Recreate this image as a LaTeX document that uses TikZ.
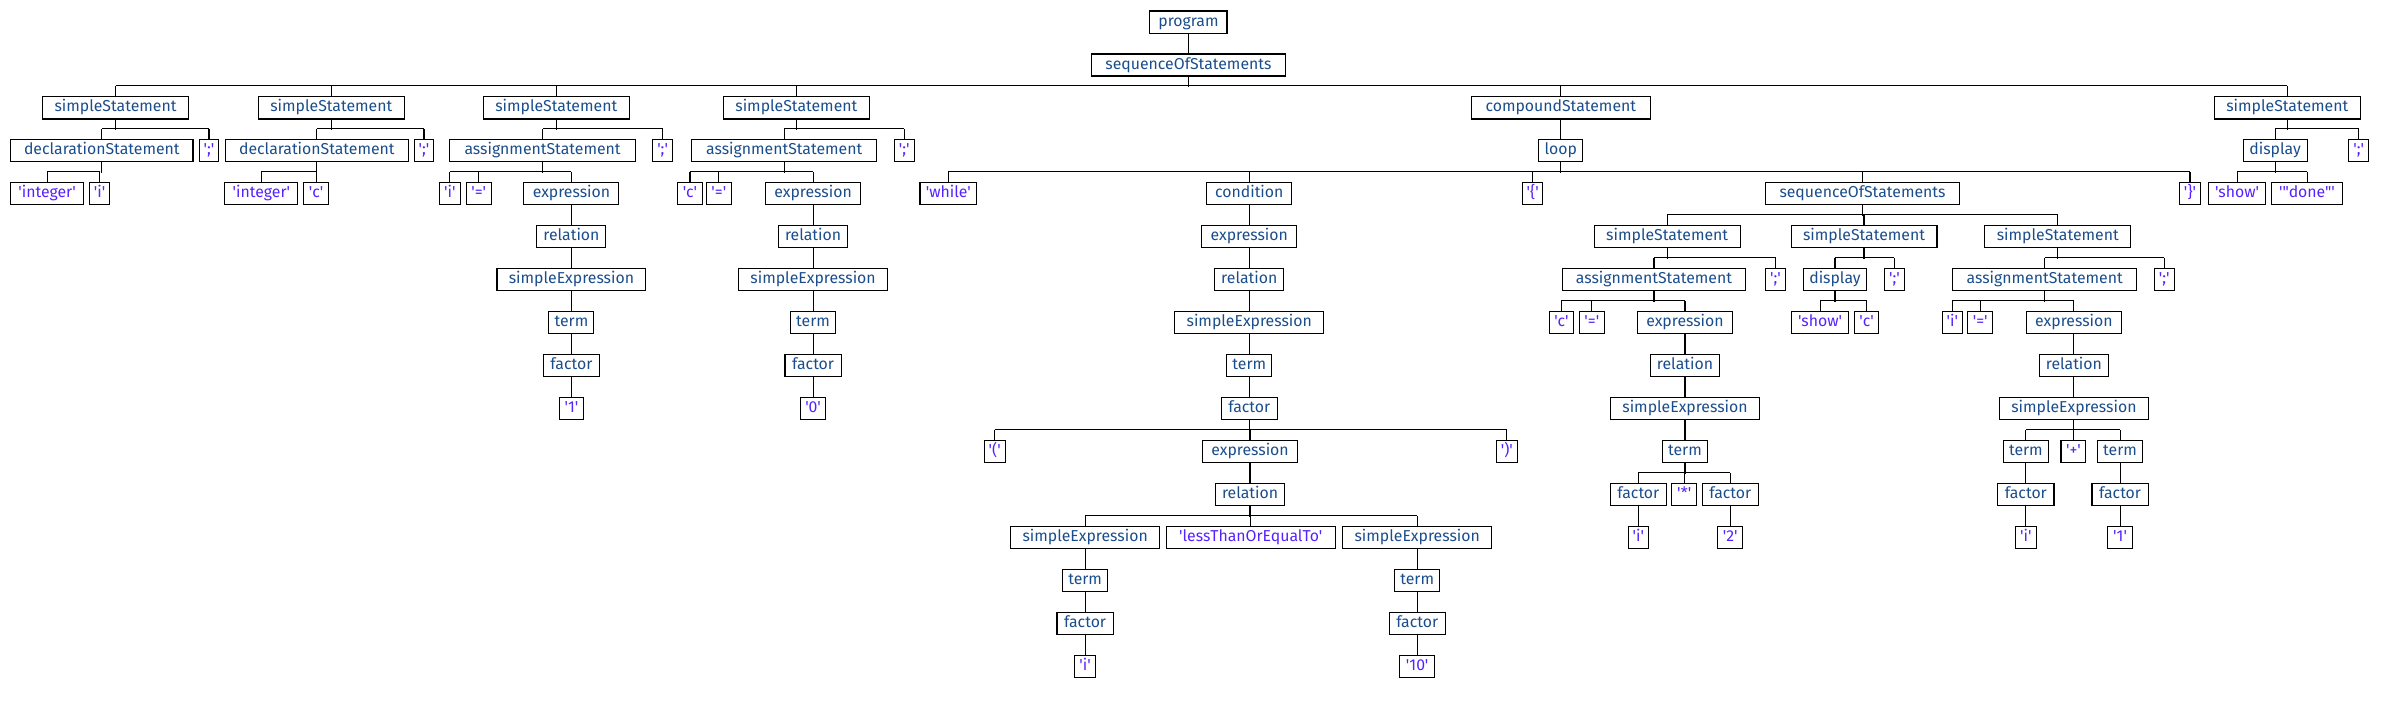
\documentclass[tikz,border=0pt]{standalone}
\usepackage{fontspec}
\newfontfamily\fira{Fira Sans}[Ligatures=TeXOff]
\definecolor{ntc}{HTML}{1A4D8C}
\definecolor{tmc}{HTML}{5522FF}
\tikzset{
  box/.style={draw=black, line width=0.7pt, inner xsep=0pt, inner ysep=0pt,
    minimum height=14.5pt, text height=7.5pt, text depth=2.2pt,
    font=\fira\fontsize{10.4}{12}\selectfont},
  nt/.style={box, text=ntc, minimum width=#1pt},
  tm/.style={box, text=tmc, minimum width=#1pt},
  ln/.style={draw=black, line width=0.7pt}
}
% #1 parent, #2 all children, #3 first child, #4 last child
\newcommand\kids[4]{%
  \draw[ln] (#1.south) -- ++(0,-6.885pt);
  \foreach \c in {#2}{\draw[ln] (\c.north) -- ++(0,6.885pt);}
  \draw[ln] ([yshift=6.885pt]#3.north) -- ([yshift=6.885pt]#4.north);}
\newcommand\one[2]{\draw[ln] (#1.south) -- (#2.north);}
\begin{document}
\begin{tikzpicture}[x=1pt, y=-28.27pt]
\useasboundingbox (0pt,0pt) rectangle (1568pt,-476pt);
\begin{scope}[yshift=-14.5pt]
% level 0-1
\node[nt=50.7] (program) at (782,0) {program};
\node[nt=128] (seq1) at (782,1) {sequenceOfStatements};
% level 2
\node[nt=96] (ss1) at (76,2) {simpleStatement};
\node[nt=96] (ss2) at (218,2) {simpleStatement};
\node[nt=96] (ss3) at (366,2) {simpleStatement};
\node[nt=96] (ss4) at (524,2) {simpleStatement};
\node[nt=118] (comp) at (1027,2) {compoundStatement};
\node[nt=96] (ss6) at (1505,2) {simpleStatement};
% level 3
\node[nt=120] (decl1) at (67,3) {declarationStatement};
\node[tm=13] (semi1) at (137.5,3) {';'};
\node[nt=120] (decl2) at (208.5,3) {declarationStatement};
\node[tm=13] (semi2) at (279,3) {';'};
\node[nt=122] (asg3) at (357,3) {assignmentStatement};
\node[tm=13] (semi3) at (436,3) {';'};
\node[nt=122] (asg4) at (516,3) {assignmentStatement};
\node[tm=13] (semi4) at (595,3) {';'};
\node[nt=29] (loop) at (1027,3) {loop};
\node[nt=42] (disp6) at (1497,3) {display};
\node[tm=13] (semi6) at (1552,3) {';'};
% level 4
\node[tm=48] (int1) at (31,4) {'integer'};
\node[tm=13.4] (i1) at (65.5,4) {'i'};
\node[tm=48] (int2) at (172,4) {'integer'};
\node[tm=16] (c2) at (208,4) {'c'};
\node[tm=13.4] (i3) at (296,4) {'i'};
\node[tm=16.4] (eq3) at (315,4) {'='};
\node[nt=62.5] (expr3) at (376,4) {expression};
\node[tm=16] (c4) at (454,4) {'c'};
\node[tm=16.4] (eq4) at (473,4) {'='};
\node[nt=62.5] (expr4) at (535,4) {expression};
\node[tm=37.3] (while) at (624,4) {'while'};
\node[nt=56] (cond) at (822,4) {condition};
\node[tm=13] (lbr) at (1008.5,4) {'\{'};
\node[nt=128] (seq2) at (1225.5,4) {sequenceOfStatements};
\node[tm=14] (rbr) at (1441,4) {'\}'};
\node[tm=37.5] (show6) at (1472,4) {'show'};
\node[tm=47] (done6) at (1518,4) {'"done"'};
% level 5
\node[nt=45.4] (rel3) at (376,5) {relation};
\node[nt=45.4] (rel4) at (535,5) {relation};
\node[nt=62.5] (cexpr) at (822,5) {expression};
\node[nt=96] (ssa) at (1097,5) {simpleStatement};
\node[nt=96] (ssb) at (1226.5,5) {simpleStatement};
\node[nt=96] (ssc) at (1354,5) {simpleStatement};
% level 6
\node[nt=98] (sexp3) at (376,6) {simpleExpression};
\node[nt=98] (sexp4) at (535,6) {simpleExpression};
\node[nt=45.4] (crel) at (822,6) {relation};
\node[nt=121] (asga) at (1088.3,6) {assignmentStatement};
\node[tm=13] (semia) at (1168.3,6) {';'};
\node[nt=41.5] (dispb) at (1207.4,6) {display};
\node[tm=13] (semib) at (1246.5,6) {';'};
\node[nt=121] (asgc) at (1345.4,6) {assignmentStatement};
\node[tm=13] (semic) at (1424,6) {';'};
% level 7
\node[nt=29.6] (term3) at (376,7) {term};
\node[nt=29.6] (term4) at (535,7) {term};
\node[nt=98] (csexp) at (822,7) {simpleExpression};
\node[tm=16] (ca) at (1027.4,7) {'c'};
\node[tm=16.4] (eqa) at (1047.4,7) {'='};
\node[nt=62.5] (expra) at (1108.7,7) {expression};
\node[tm=37.5] (showb) at (1197.6,7) {'show'};
\node[tm=16] (cb) at (1228.2,7) {'c'};
\node[tm=13.4] (ic) at (1284.6,7) {'i'};
\node[tm=16.4] (eqc) at (1303,7) {'='};
\node[nt=62.5] (exprc) at (1364.6,7) {expression};
% level 8
\node[nt=37] (fac3) at (376,8) {factor};
\node[nt=37] (fac4) at (535,8) {factor};
\node[nt=29.6] (cterm) at (822,8) {term};
\node[nt=45.4] (rela) at (1108.7,8) {relation};
\node[nt=45.4] (relc) at (1364.6,8) {relation};
% level 9
\node[tm=16.2] (one3) at (376,9) {'1'};
\node[tm=16.2] (zero4) at (535,9) {'0'};
\node[nt=37] (cfac) at (822,9) {factor};
\node[nt=98] (sexpa) at (1108.7,9) {simpleExpression};
\node[nt=98] (sexpc) at (1364.6,9) {simpleExpression};
% level 10
\node[tm=13.7] (lpar) at (654.5,10) {'('};
\node[nt=62.5] (cexpr2) at (822.5,10) {expression};
\node[tm=13.7] (rpar) at (991.5,10) {')'};
\node[nt=29.6] (terma) at (1108.7,10) {term};
\node[nt=29.6] (tc1) at (1333,10) {term};
\node[tm=16.4] (plus) at (1364.3,10) {'+'};
\node[nt=29.6] (tc2) at (1395,10) {term};
% level 11
\node[nt=45.4] (crel2) at (822.5,11) {relation};
\node[nt=37] (fa1) at (1078,11) {factor};
\node[tm=16.3] (star) at (1108.2,11) {'*'};
\node[nt=37] (fa2) at (1138.5,11) {factor};
\node[nt=37] (fc1) at (1333,11) {factor};
\node[nt=37] (fc2) at (1395,11) {factor};
% level 12
\node[nt=98] (csexpL) at (714,12) {simpleExpression};
\node[tm=111.2] (lte) at (823,12) {'lessThanOrEqualTo'};
\node[nt=98] (csexpR) at (932.5,12) {simpleExpression};
\node[tm=13.4] (ia) at (1078,12) {'i'};
\node[tm=16.4] (twoa) at (1138.5,12) {'2'};
\node[tm=13.4] (ic2) at (1333,12) {'i'};
\node[tm=16.2] (onec) at (1395,12) {'1'};
% level 13
\node[nt=29.6] (ctermL) at (714,13) {term};
\node[nt=29.6] (ctermR) at (932.5,13) {term};
% level 14
\node[nt=37] (cfacL) at (714,14) {factor};
\node[nt=37] (cfacR) at (932.5,14) {factor};
% level 15
\node[tm=13.4] (iL) at (714,15) {'i'};
\node[tm=23.3] (ten) at (932.5,15) {'10'};
% connectors
\one{program}{seq1}
\kids{seq1}{ss1,ss2,ss3,ss4,comp,ss6}{ss1}{ss6}
\kids{ss1}{decl1,semi1}{decl1}{semi1}
\kids{ss2}{decl2,semi2}{decl2}{semi2}
\kids{ss3}{asg3,semi3}{asg3}{semi3}
\kids{ss4}{asg4,semi4}{asg4}{semi4}
\one{comp}{loop}
\kids{ss6}{disp6,semi6}{disp6}{semi6}
\kids{decl1}{int1,i1}{int1}{i1}
\kids{decl2}{int2,c2}{int2}{c2}
\kids{asg3}{i3,eq3,expr3}{i3}{expr3}
\kids{asg4}{c4,eq4,expr4}{c4}{expr4}
\kids{loop}{while,cond,lbr,seq2,rbr}{while}{rbr}
\kids{disp6}{show6,done6}{show6}{done6}
\one{expr3}{rel3}
\one{rel3}{sexp3}
\one{sexp3}{term3}
\one{term3}{fac3}
\one{fac3}{one3}
\one{expr4}{rel4}
\one{rel4}{sexp4}
\one{sexp4}{term4}
\one{term4}{fac4}
\one{fac4}{zero4}
\one{cond}{cexpr}
\one{cexpr}{crel}
\one{crel}{csexp}
\one{csexp}{cterm}
\one{cterm}{cfac}
\kids{cfac}{lpar,cexpr2,rpar}{lpar}{rpar}
\one{cexpr2}{crel2}
\kids{crel2}{csexpL,lte,csexpR}{csexpL}{csexpR}
\one{csexpL}{ctermL}
\one{ctermL}{cfacL}
\one{cfacL}{iL}
\one{csexpR}{ctermR}
\one{ctermR}{cfacR}
\one{cfacR}{ten}
\kids{seq2}{ssa,ssb,ssc}{ssa}{ssc}
\kids{ssa}{asga,semia}{asga}{semia}
\kids{ssb}{dispb,semib}{dispb}{semib}
\kids{ssc}{asgc,semic}{asgc}{semic}
\kids{asga}{ca,eqa,expra}{ca}{expra}
\kids{dispb}{showb,cb}{showb}{cb}
\kids{asgc}{ic,eqc,exprc}{ic}{exprc}
\one{expra}{rela}
\one{rela}{sexpa}
\one{sexpa}{terma}
\kids{terma}{fa1,star,fa2}{fa1}{fa2}
\one{fa1}{ia}
\one{fa2}{twoa}
\one{exprc}{relc}
\one{relc}{sexpc}
\kids{sexpc}{tc1,plus,tc2}{tc1}{tc2}
\one{tc1}{fc1}
\one{tc2}{fc2}
\one{fc1}{ic2}
\one{fc2}{onec}
\end{scope}
\end{tikzpicture}
\end{document}
